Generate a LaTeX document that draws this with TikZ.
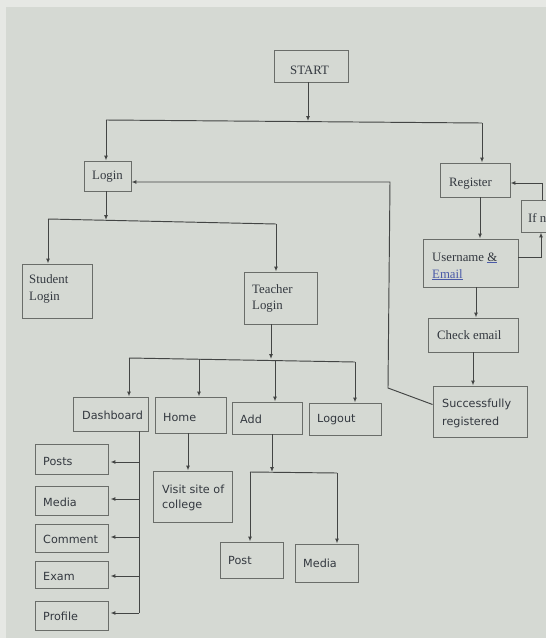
\documentclass[tikz,border=0pt]{standalone}
\usepackage{fontspec}
\setmainfont{Liberation Serif}
\newfontfamily\sansf{DejaVu Sans}
\usetikzlibrary{arrows.meta,calc}
\definecolor{bgc}{HTML}{D5D9D3}
\definecolor{edgec}{HTML}{E6E8E4}
\definecolor{boxc}{HTML}{6A6D69}
\definecolor{linec}{HTML}{434544}
\definecolor{txtc}{HTML}{33383F}
\definecolor{linkc}{HTML}{4A5AA8}
\begin{document}
\begin{tikzpicture}[x=1pt,y=-1pt,
  box/.style={draw=boxc, line width=0.95pt, inner sep=0pt},
  ln/.style={draw=linec, line width=0.95pt},
  arr/.style={ln, -{Latex[length=4.8pt,width=3.8pt]}},
  st/.style={inner sep=0pt, text=txtc, font=\fontsize{12.8}{15}\selectfont, anchor=base west},
  ss/.style={inner sep=0pt, text=txtc, font=\sansf\fontsize{11.2}{14}\selectfont, anchor=base west},
]
\useasboundingbox (0,0) rectangle (546,638);
\clip (0,0) rectangle (546,638);
\fill[bgc] (0,0) rectangle (546,638);
\fill[edgec] (0,0) rectangle (6,638);
\fill[edgec] (0,0) rectangle (546,7);

% ---------- boxes ----------
\node[box, minimum width=74pt, minimum height=32pt] (start) at (311,66) {};
\node[box, minimum width=47pt, minimum height=30pt] (login) at (107.5,176) {};
\node[box, minimum width=70pt, minimum height=34pt] (register) at (475,180) {};
\node[box, minimum width=51pt, minimum height=32pt] (ifbox) at (546.5,216) {};
\node[box, minimum width=95pt, minimum height=48pt] (username) at (470.5,263) {};
\node[box, minimum width=90pt, minimum height=34pt] (check) at (473,335) {};
\node[box, minimum width=94pt, minimum height=51pt] (success) at (480,411.5) {};
\node[box, minimum width=70pt, minimum height=54pt] (student) at (57,291) {};
\node[box, minimum width=73pt, minimum height=52pt] (teacher) at (280.5,298) {};
\node[box, minimum width=75pt, minimum height=34pt] (dashboard) at (110.5,414) {};
\node[box, minimum width=71pt, minimum height=36pt] (home) at (190.5,415) {};
\node[box, minimum width=70pt, minimum height=32pt] (add) at (267,418) {};
\node[box, minimum width=72pt, minimum height=32pt] (logout) at (345,419) {};
\node[box, minimum width=73pt, minimum height=30pt] (posts) at (71.5,459) {};
\node[box, minimum width=73pt, minimum height=29pt] (media1) at (71.5,500.5) {};
\node[box, minimum width=73pt, minimum height=28pt] (comment) at (71.5,538) {};
\node[box, minimum width=73pt, minimum height=27pt] (exam) at (71.5,574.5) {};
\node[box, minimum width=73pt, minimum height=29pt] (profile) at (71.5,615.5) {};
\node[box, minimum width=79pt, minimum height=51pt] (visit) at (192.5,496.5) {};
\node[box, minimum width=63pt, minimum height=36pt] (post) at (251.5,560) {};
\node[box, minimum width=63pt, minimum height=38pt] (media2) at (326.5,563) {};

% ---------- texts ----------
\node[st] (tstart) at (290,74) {START};
\node[st] (tlogin) at (92,179) {Login};
\node[st] (tregister) at (449,186) {Register};
\node[st] (tif) at (528,222) {If n};
\node[st] (tuser1) at (432,261) {Username {\color{linkc}\underline{\color{txtc}\&}}};
\node[st] (tuser2) at (432,278) {{\color{linkc}\underline{Email}}};
\node[st] (tcheck) at (437,339) {Check email};
\node[st] (tstud1) at (29,283) {Student};
\node[st] (tstud2) at (29,300) {Login};
\node[st] (tteach1) at (252,293) {Teacher};
\node[st] (tteach2) at (252,309) {Login};
\node[ss] (tsucc1) at (442,407) {Successfully};
\node[ss] (tsucc2) at (442,425) {registered};
\node[ss] (tdash) at (82,419) {Dashboard};
\node[ss] (thome) at (163,421) {Home};
\node[ss] (tadd) at (240,423) {Add};
\node[ss] (tlogout) at (317,422) {Logout};
\node[ss] (tposts) at (43,465) {Posts};
\node[ss] (tmedia1) at (43,506) {Media};
\node[ss] (tcomment) at (43,543) {Comment};
\node[ss] (texam) at (43,580) {Exam};
\node[ss] (tprofile) at (43,620) {Profile};
\node[ss] (tvisit1) at (162,493) {Visit site of};
\node[ss] (tvisit2) at (162,508) {college};
\node[ss] (tpost) at (228,564) {Post};
\node[ss] (tmedia2) at (303,567) {Media};

% ---------- connectors ----------
\coordinate (j1) at (308,121);
\coordinate (j1l) at (106,120);
\coordinate (j1r) at (482,123);
\draw[arr] (start.south -| j1) -- (j1);
\draw[ln] (j1l) -- (j1r);
\draw[arr] (j1l) -- (j1l |- login.north);
\draw[arr] (j1r) -- (j1r |- register.north);

\coordinate (j2) at (106,220);
\coordinate (j2l) at (48,219);
\coordinate (j2r) at (276,224);
\draw[arr] (login.south -| j2) -- (j2);
\draw[ln] (j2l) -- (j2r);
\draw[arr] (j2l) -- (j2l |- student.north);
\draw[arr] (j2r) -- (j2r |- teacher.north);

\coordinate (b1) at (390,182);
\coordinate (b2) at (388,388);
\draw[arr] ($(success.west)+(0,-7)$) -- (b2) -- (b1) -- (login.east |- b1);

\draw[arr] ($(ifbox.north)+(-4.5,0)$) |- ($(register.east)+(0,3)$);
\draw[arr] ($(username.east)+(0,-6)$) -| ($(ifbox.south)+(-5.5,0)$);

\coordinate (rx) at (480,0);
\coordinate (ux) at (476,0);
\coordinate (cx) at (473,0);
\draw[arr] (register.south -| rx) -- (username.north -| rx);
\draw[arr] (username.south -| ux) -- (check.north -| ux);
\draw[arr] (check.south -| cx) -- (success.north -| cx);

\coordinate (j3) at (271,359);
\coordinate (j3l) at (129,358);
\coordinate (j3a) at (199,359);
\coordinate (j3b) at (275,360);
\coordinate (j3r) at (355,362);
\draw[arr] (teacher.south -| j3) -- (j3);
\draw[ln] (j3l) -- (j3r);
\draw[arr] (j3l) -- (j3l |- dashboard.north);
\draw[arr] (j3a) -- (j3a |- home.north);
\draw[arr] (j3b) -- (j3b |- add.north);
\draw[arr] (j3r) -- (j3r |- logout.north);

\coordinate (d0) at (139,613);
\coordinate (dp1) at (139,462);
\coordinate (dp2) at (139,499);
\coordinate (dp3) at (139,537);
\coordinate (dp4) at (139,576);
\draw[ln] (dashboard.south -| d0) -- (d0);
\draw[arr, shorten >=2pt] (dp1) -- (dp1 -| posts.east);
\draw[arr, shorten >=2pt] (dp2) -- (dp2 -| media1.east);
\draw[arr, shorten >=2pt] (dp3) -- (dp3 -| comment.east);
\draw[arr, shorten >=2pt] (dp4) -- (dp4 -| exam.east);
\draw[arr, shorten >=2pt] (d0) -- (d0 -| profile.east);

\coordinate (hx) at (188,0);
\draw[arr] (home.south -| hx) -- (visit.north -| hx);

\coordinate (j4) at (272,472);
\coordinate (j4l) at (250,472);
\coordinate (j4r) at (337,473);
\draw[arr] (add.south -| j4) -- (j4);
\draw[ln] (j4l) -- (j4r);
\draw[arr] (j4l) -- (j4l |- post.north);
\draw[arr] (j4r) -- (j4r |- media2.north);
\end{tikzpicture}
\end{document}
